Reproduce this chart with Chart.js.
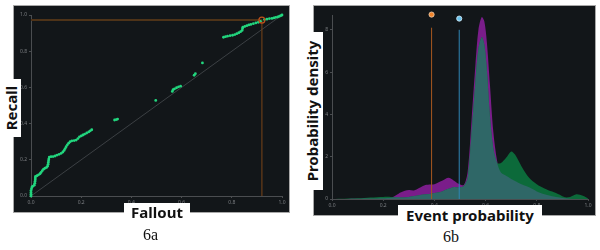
<!DOCTYPE html>
<html>
<head>
<meta charset="UTF-8">
<script src="https://cdn.jsdelivr.net/npm/chart.js"></script>
<style>
  body { margin: 0; background: #fff; width: 600px; height: 250px; position: relative; overflow: hidden; font-family: "Noto Sans", sans-serif; }
  .panel { position: absolute; background: #121619; border: 1px solid #a8a8a8; box-sizing: border-box; }
  .panel canvas { position: absolute; left: 0; top: 0; }
  .lab { position: absolute; background: #fff; color: #111; font-weight: bold; font-size: 15px; text-align: center; white-space: nowrap; }
  .vlab { position: absolute; background: #fff; }
  .vlab span { position: absolute; left: 50%; top: 50%; transform: translate(-50%, -50%) rotate(-90deg); font-weight: bold; font-size: 15px; color: #111; white-space: nowrap; }
  .cap { position: absolute; font-family: "Liberation Serif", serif; font-size: 16px; color: #111; }
</style>
</head>
<body>
<div class="panel" style="left:13px;top:5px;width:277px;height:208px;"><canvas id="roc" width="277" height="208"></canvas></div>
<div class="panel" style="left:313px;top:5px;width:283px;height:211px;"><canvas id="dens" width="283" height="211"></canvas></div>

<div class="vlab" style="left:0;top:79px;width:21px;height:58px;"><span>Recall</span></div>
<div class="lab" style="left:124px;top:203px;width:66px;height:20px;line-height:18px;">Fallout</div>
<div class="cap" style="left:143px;top:226px;">6a</div>

<div class="vlab" style="left:300px;top:32px;width:23px;height:158px;"><span>Probability density</span></div>
<div class="lab" style="left:398px;top:205px;width:144px;height:20px;line-height:20px;">Event probability</div>
<div class="cap" style="left:443px;top:228px;">6b</div>

<script>
// 6a: ROC points
var fallout = [0, 0, 0, 0, 0.002, 0.004, 0.008, 0.013, 0.015, 0.016, 0.017, 0.017, 0.018, 0.024, 0.03, 0.036, 0.04, 0.045, 0.05, 0.056, 0.062, 0.066, 0.068, 0.069, 0.07, 0.071, 0.073, 0.08, 0.088, 0.096, 0.104, 0.112, 0.12, 0.127, 0.132, 0.136, 0.14, 0.145, 0.15, 0.156, 0.163, 0.172, 0.18, 0.187, 0.193, 0.2, 0.207, 0.214, 0.222, 0.23, 0.236, 0.242,
  0.333, 0.34, 0.345, 0.497, 0.563, 0.566, 0.572, 0.58, 0.588, 0.596, 0.65, 0.655, 0.683,
  0.767, 0.775, 0.783, 0.793, 0.803, 0.812, 0.82, 0.828, 0.835, 0.841, 0.843, 0.844, 0.852, 0.86, 0.868, 0.876, 0.886, 0.896, 0.906, 0.914,
  0.93, 0.94, 0.95, 0.96, 0.968, 0.975, 0.983, 0.99, 0.996, 1];
var recall = [0, 0.01, 0.02, 0.03, 0.04, 0.05, 0.055, 0.06, 0.07, 0.08, 0.09, 0.1, 0.108, 0.112, 0.117, 0.123, 0.13, 0.14, 0.148, 0.154, 0.158, 0.165, 0.175, 0.185, 0.195, 0.205, 0.215, 0.217, 0.218, 0.221, 0.226, 0.23, 0.236, 0.243, 0.252, 0.262, 0.272, 0.283, 0.292, 0.3, 0.305, 0.306, 0.309, 0.317, 0.327, 0.332, 0.337, 0.342, 0.348, 0.354, 0.36, 0.366,
  0.42, 0.422, 0.425, 0.528, 0.578, 0.587, 0.592, 0.598, 0.603, 0.607, 0.667, 0.676, 0.735,
  0.877, 0.88, 0.883, 0.886, 0.888, 0.892, 0.897, 0.902, 0.908, 0.915, 0.925, 0.933, 0.937, 0.941, 0.945, 0.948, 0.952, 0.956, 0.96, 0.965,
  0.975, 0.977, 0.98, 0.981, 0.984, 0.987, 0.989, 0.993, 0.997, 1];
var threshold = { fallout: 0.92, recall: 0.972 };
var rocTicks = [0, 0.2, 0.4, 0.6, 0.8, 1.0];

// 6b: density curves
var prob = [0, 0.05, 0.1, 0.15, 0.2, 0.23, 0.25, 0.27, 0.3, 0.32, 0.34, 0.36, 0.38, 0.4, 0.43, 0.455, 0.475, 0.495, 0.515, 0.53, 0.545, 0.56, 0.572, 0.585, 0.595, 0.605, 0.617, 0.63, 0.645, 0.66, 0.68, 0.7, 0.715, 0.74, 0.77, 0.8, 0.83, 0.86, 0.89, 0.91, 0.93, 0.955, 0.98, 1.0];
var densPurple = [0, 0, 0.01, 0.02, 0.03, 0.06, 0.18, 0.32, 0.42, 0.4, 0.52, 0.64, 0.68, 0.7, 0.86, 1.0, 0.88, 0.72, 0.66, 1.3, 3.7, 6.3, 8.0, 8.6, 8.4, 7.4, 5.4, 3.2, 1.8, 1.25, 1.1, 0.95, 0.85, 0.7, 0.55, 0.36, 0.22, 0.13, 0.07, 0.03, 0.01, 0, 0, 0];
var densGreen = [0, 0.01, 0.03, 0.07, 0.1, 0.1, 0.08, 0.07, 0.1, 0.14, 0.18, 0.21, 0.24, 0.28, 0.36, 0.48, 0.56, 0.55, 0.62, 1.0, 3.1, 5.5, 7.1, 7.65, 7.3, 6.1, 3.9, 2.4, 1.7, 1.7, 1.95, 2.25, 2.1, 1.55, 1.0, 0.7, 0.5, 0.35, 0.2, 0.08, 0.1, 0.22, 0.15, 0.02];
var cutOrange = 0.389, cutBlue = 0.497;
var densTicks = [0, 2, 4, 6, 8];
var probTicks = [0, 0.2, 0.4, 0.6, 0.8, 1.0];

function pts(xs, ys) { return xs.map(function (x, i) { return { x: x, y: ys[i] }; }); }

var tickFont = { size: 5, family: 'Noto Sans' };
function axis(min, max, ticks, fixed, isY) {
  return {
    type: 'linear', min: min, max: max,
    afterBuildTicks: function (s) { s.ticks = ticks.map(function (v) { return { value: v }; }); },
    afterFit: function (s) { if (isY) s.width = fixed; else s.height = fixed; },
    border: { display: true, color: '#4a4d50', width: 1 },
    grid: { display: true, drawOnChartArea: false, color: '#4a4d50', tickLength: 2 },
    ticks: { color: '#7a7d80', font: tickFont, padding: 2, maxRotation: 0,
      callback: function (v) { return isY && max > 2 ? v.toString() : v.toFixed(1); } }
  };
}

new Chart(document.getElementById('roc'), {
  type: 'scatter',
  data: {
    datasets: [
      { data: [{ x: threshold.fallout, y: threshold.recall }], clip: false, pointRadius: 3, pointBorderColor: '#c0501a', pointBackgroundColor: 'rgba(0,0,0,0)', pointBorderWidth: 1.2 },
      { data: pts(fallout, recall), clip: false, pointRadius: 1.4, pointBackgroundColor: '#22d67e', pointBorderWidth: 0 },
      { data: [{ x: 0, y: threshold.recall }, { x: threshold.fallout, y: threshold.recall }], showLine: true, borderColor: '#4e3318', borderWidth: 2, pointRadius: 0 },
      { data: [{ x: threshold.fallout, y: 0 }, { x: threshold.fallout, y: threshold.recall }], showLine: true, borderColor: '#7a4418', borderWidth: 1, pointRadius: 0 },
      { data: [{ x: 0, y: 0 }, { x: 1, y: 1 }], showLine: true, borderColor: '#3c4044', borderWidth: 1, pointRadius: 0 }
    ]
  },
  options: {
    responsive: false, animation: false,
    layout: { padding: { left: 0, right: 9, top: 9, bottom: 0 } },
    plugins: { legend: { display: false }, tooltip: { enabled: false } },
    scales: { x: axis(0, 1, rocTicks, 18, false), y: axis(0, 1, rocTicks, 17, true) }
  }
});

var overlap = densPurple.map(function (v, i) { return Math.min(v, densGreen[i]); });

new Chart(document.getElementById('dens'), {
  type: 'scatter',
  data: {
    datasets: [
      { data: [{ x: cutOrange, y: 8.72 }], clip: false, pointRadius: 2.6, pointBackgroundColor: '#f0842c', pointBorderColor: '#f3d0b0', pointBorderWidth: 0.8 },
      { data: [{ x: cutBlue, y: 8.53 }], clip: false, pointRadius: 2.6, pointBackgroundColor: '#6cc4ee', pointBorderColor: '#d8eef8', pointBorderWidth: 0.8 },
      { data: [{ x: cutOrange, y: 0 }, { x: cutOrange, y: 8.1 }], showLine: true, borderColor: '#a8581f', borderWidth: 1, pointRadius: 0 },
      { data: [{ x: cutBlue, y: 0 }, { x: cutBlue, y: 8.0 }], showLine: true, borderColor: '#2f86b4', borderWidth: 1, pointRadius: 0 },
      { data: pts(prob, overlap), showLine: true, fill: 'origin', backgroundColor: '#2f6767', borderWidth: 0, pointRadius: 0, tension: 0.3 },
      { data: pts(prob, densGreen), showLine: true, fill: 'origin', backgroundColor: '#0c6a3a', borderWidth: 0, pointRadius: 0, tension: 0.3 },
      { data: pts(prob, densPurple), showLine: true, fill: 'origin', backgroundColor: '#7a1d8a', borderWidth: 0, pointRadius: 0, tension: 0.3 }
    ]
  },
  options: {
    responsive: false, animation: false,
    layout: { padding: { left: 0, right: 9, top: 9, bottom: 0 } },
    plugins: { legend: { display: false }, tooltip: { enabled: false } },
    scales: { x: axis(0, 1, probTicks, 18, false), y: axis(0, 8.7, densTicks, 18, true) }
  }
});
</script>
</body>
</html>
